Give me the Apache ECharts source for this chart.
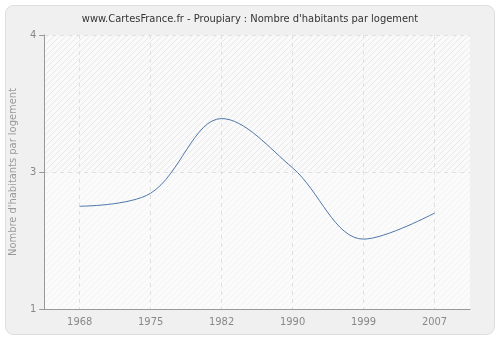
<!DOCTYPE html>
<html><head><meta charset="utf-8">
<script src="https://cdn.jsdelivr.net/npm/echarts@6/dist/echarts.min.js"></script>
<style>html,body{margin:0;padding:0;background:#fff}#c{width:500px;height:340px}</style>
</head><body><div id="c"></div>
<script>
var titleText = "www.CartesFrance.fr - Proupiary : Nombre d'habitants par logement";
var yAxisName = "Nombre d'habitants par logement";
var years = ['1968', '1975', '1982', '1990', '1999', '2007'];
var values = [2.75, 2.845, 3.39, 3.03, 2.51, 2.70];
var yTickValues = [2, 3, 4];
var yTickLabels = ['1', '3', '4'];

function makePattern(bg, line) {
  var cv = document.createElement('canvas');
  cv.width = 6; cv.height = 6;
  var ctx = cv.getContext('2d');
  ctx.fillStyle = bg; ctx.fillRect(0, 0, 6, 6);
  ctx.strokeStyle = line; ctx.lineWidth = 1;
  ctx.beginPath();
  ctx.moveTo(-1, 7); ctx.lineTo(7, -1);
  ctx.moveTo(-1, 1); ctx.lineTo(1, -1);
  ctx.moveTo(5, 7); ctx.lineTo(7, 5);
  ctx.stroke();
  return { image: cv, repeat: 'repeat' };
}

var chart = echarts.init(document.getElementById('c'), null, { renderer: 'canvas' });
chart.setOption({
  backgroundColor: '#ffffff',
  animation: false,
  graphic: [{
    type: 'rect', z: -10, silent: true,
    shape: { x: 5.5, y: 5.5, width: 489, height: 329, r: 8 },
    style: { fill: '#f0f0f0', stroke: '#dedede', lineWidth: 1 }
  }],
  title: {
    text: titleText, left: 'center', top: 9,
    textStyle: { fontFamily: 'DejaVu Sans Condensed', fontSize: 11, fontWeight: 'normal', color: '#333' }
  },
  grid: { left: 40, right: 30, top: 35, bottom: 31, containLabel: false, show: true, backgroundColor: '#fafafa', borderWidth: 0 },
  xAxis: {
    type: 'category', data: years, boundaryGap: true, z: 4,
    axisLine: { lineStyle: { color: '#999', width: 1 } },
    axisTick: { alignWithLabel: true, length: 5, lineStyle: { color: '#999' } },
    axisLabel: { color: '#888', fontFamily: 'DejaVu Sans Condensed', fontSize: 11, margin: 8 },
    splitLine: { show: true, alignWithLabel: true, lineStyle: { color: '#e0e0e0', type: [4, 4] } }
  },
  yAxis: {
    type: 'value', min: 2, max: 4, interval: 1, z: 4,
    name: yAxisName, nameLocation: 'middle', nameGap: 25,
    nameTextStyle: { color: '#999', fontFamily: 'DejaVu Sans Condensed', fontSize: 11 },
    axisLine: { show: true, lineStyle: { color: '#999', width: 1 } },
    axisTick: { show: true, length: 5, lineStyle: { color: '#999' } },
    axisLabel: {
      color: '#888', fontFamily: 'DejaVu Sans Condensed', fontSize: 11, margin: 8,
      formatter: function (v) { var i = yTickValues.indexOf(v); return i >= 0 ? yTickLabels[i] : ''; }
    },
    splitLine: { show: true, lineStyle: { color: '#e0e0e0', type: [4, 4] } }
  },
  series: [{
    type: 'line', data: values, smooth: 0.35, symbol: 'none',
    lineStyle: { color: '#4f77aa', width: 1 },
    z: 5,
    markArea: {
      silent: true, z: 1,
      data: [
        [{ yAxis: 3, itemStyle: { color: makePattern('#fafafa', '#e9e9e9') } }, { yAxis: 4 }],
        [{ yAxis: 2, itemStyle: { color: makePattern('#fbfbfb', '#f2f2f2') } }, { yAxis: 3 }]
      ]
    }
  }]
});
</script></body></html>
